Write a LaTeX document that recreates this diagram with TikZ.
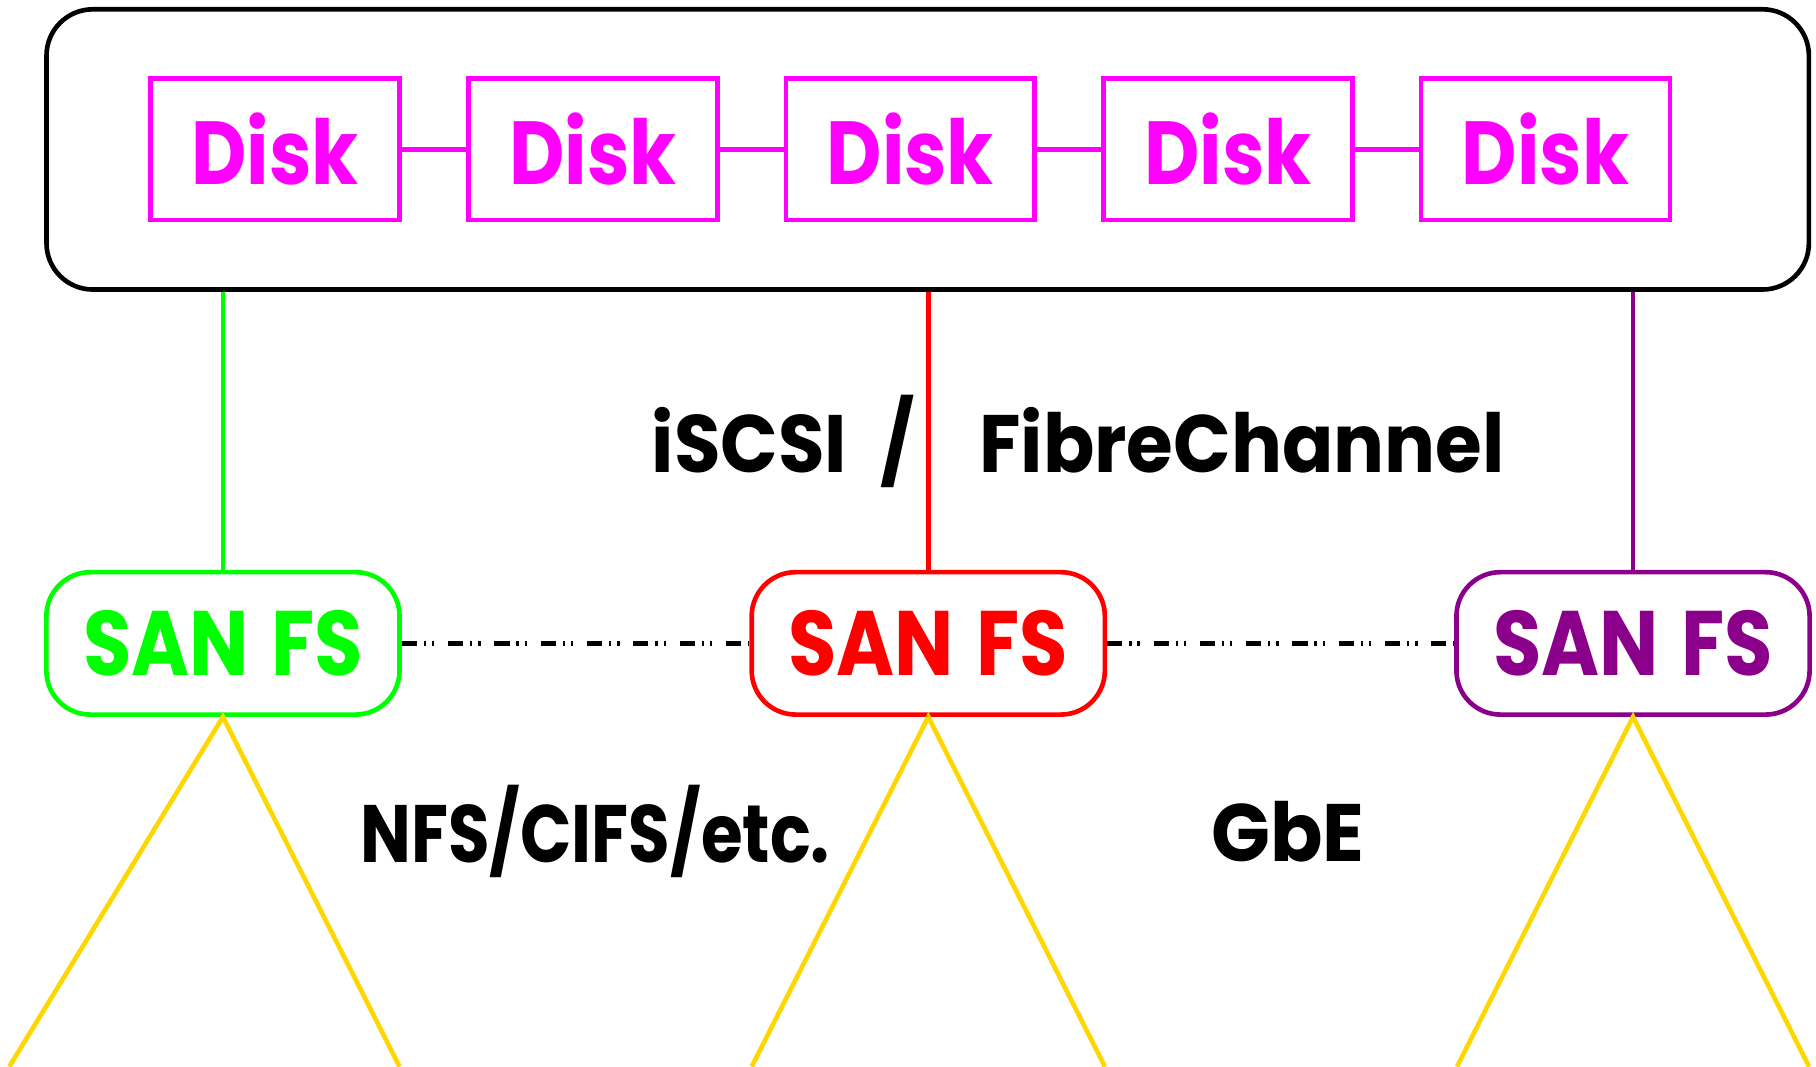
\documentclass[tikz,border=0pt]{standalone}
\usepackage{fontspec}
\usepackage{graphicx}
\setmainfont{Poppins}[BoldFont={* Bold}]
% horizontally squeezed text
\newcommand{\sqz}[2]{\scalebox{#1}[1]{#2}}
\begin{document}
\begin{tikzpicture}[x=0.02cm,y=-0.02cm,
  every node/.style={font=\bfseries},
  lw/.style={line width=0.08cm},
  diskbox/.style={lw,draw=diskmag,text=diskmag,rectangle,inner sep=0pt,
    minimum width=4.3cm,minimum height=2.44cm,font=\bfseries\fontsize{44}{50}\selectfont},
  fsbox/.style={lw,draw=#1,text=#1,rectangle,rounded corners=0.76cm,inner sep=0pt,
    minimum width=6.1cm,minimum height=2.46cm,font=\bfseries\fontsize{45}{50}\selectfont},
  label/.style={font=\bfseries\fontsize{40}{46}\selectfont,inner sep=0pt},
  proto/.style={lw,dash pattern=on 0.26cm off 0.12cm on 0.04cm off 0.1cm on 0.04cm off 0.24cm},
  client/.style={lw,draw=clientgold}]
\definecolor{diskmag}{RGB}{255,0,255}
\definecolor{fsgreen}{RGB}{0,255,0}
\definecolor{fsred}{RGB}{255,0,0}
\definecolor{fspurple}{RGB}{139,0,139}
\definecolor{clientgold}{RGB}{255,215,0}
\useasboundingbox (0,0) rectangle (1568,921);

% storage enclosure
\node[lw,draw=black,rectangle,rounded corners=0.8cm,minimum width=30.44cm,
  minimum height=4.84cm,inner sep=0pt] (array) at (801,129) {};

% disks on a shared bus
\node[diskbox] (d1) at (237.5,129) {\sqz{0.85}{Disk}};
\node[diskbox] (d2) at (512,129) {\sqz{0.85}{Disk}};
\node[diskbox] (d3) at (786,129) {\sqz{0.85}{Disk}};
\node[diskbox] (d4) at (1060.5,129) {\sqz{0.85}{Disk}};
\node[diskbox] (d5) at (1334.5,129) {\sqz{0.85}{Disk}};
\foreach \a/\b in {d1/d2,d2/d3,d3/d4,d4/d5}
  \draw[lw,diskmag] (\a.east) -- (\b.west);

% file-system servers
\node[fsbox=fsgreen] (fs1) at (192.5,555.5) {\sqz{0.86}{SAN\hspace{0.45cm}FS}};
\node[fsbox=fsred] (fs2) at (801.5,555.5) {\sqz{0.86}{SAN\hspace{0.45cm}FS}};
\node[fsbox=fspurple] (fs3) at (1410,555.5) {\sqz{0.86}{SAN\hspace{0.45cm}FS}};

% block-level links to the enclosure
\draw[lw,fsgreen] (fs1.north) -- (fs1.north |- array.south);
\draw[lw,fsred] (fs2.north) -- (fs2.north |- array.south);
\draw[lw,fspurple] (fs3.north) -- (fs3.north |- array.south);

% cluster interconnect
\draw[proto] (fs1.east) -- (fs2.west);
\draw[proto] (fs2.east) -- (fs3.west);

% client fans
\coordinate (c1l) at (8,921);
\coordinate (c1r) at (345,921);
\coordinate (c2l) at (649,921);
\coordinate (c2r) at (954,921);
\coordinate (c3l) at (1258,921);
\coordinate (c3r) at (1562,921);
\draw[client] (c1l) -- (fs1.south) -- (c1r);
\draw[client] (c2l) -- (fs2.south) -- (c2r);
\draw[client] (c3l) -- (fs3.south) -- (c3r);

% protocol labels
\node[label] (blk) at (931,381) {\sqz{0.93}{iSCSI\hspace{0.62cm}/\hspace{1.2cm}FibreChannel}};
\node[label] (nas) at (514,718) {\sqz{0.83}{NFS/CIFS/etc.}};
\node[label] (eth) at (1112,718) {\sqz{0.95}{GbE}};
\end{tikzpicture}
\end{document}
